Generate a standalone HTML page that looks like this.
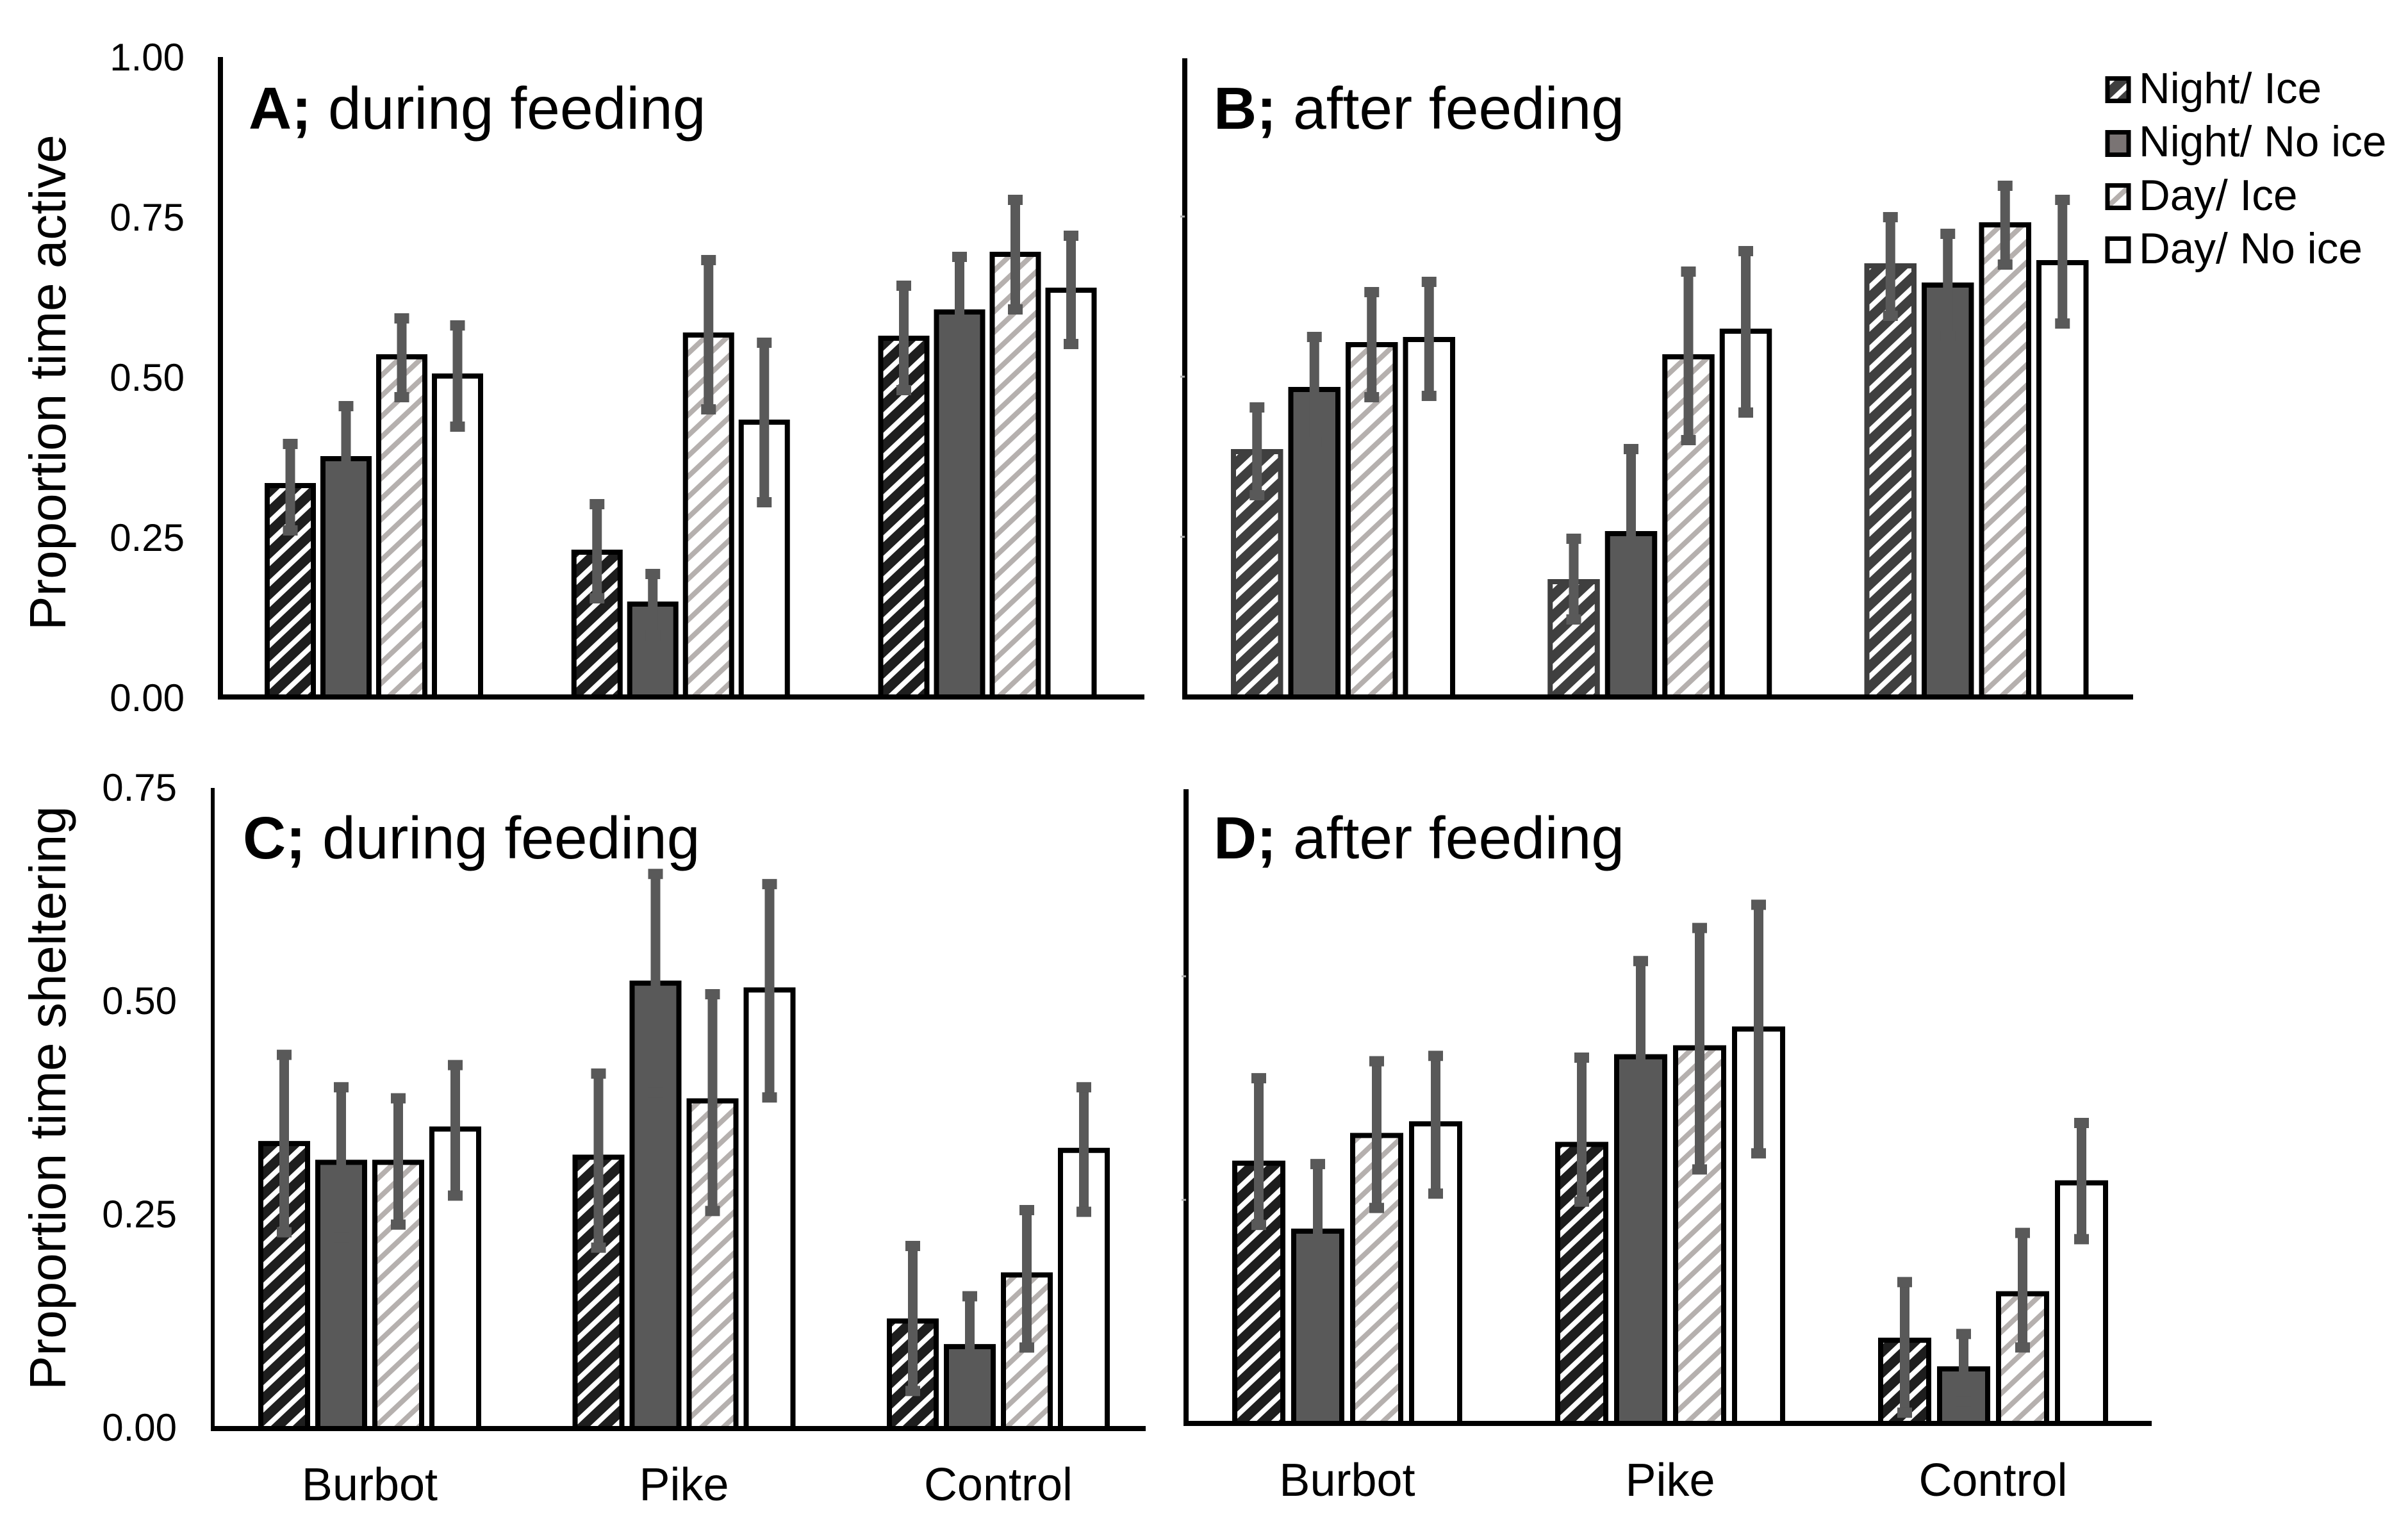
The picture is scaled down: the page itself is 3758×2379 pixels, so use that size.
<!DOCTYPE html>
<html lang="en">
<head>
<meta charset="utf-8">
<title>Proportion time active and sheltering</title>
<style>
  html, body { margin: 0; padding: 0; background: #fff; }
  svg { display: block; font-family: "Liberation Sans", sans-serif; }
</style>
</head>
<body>
<svg id="chart" xmlns="http://www.w3.org/2000/svg" width="3758" height="2379" viewBox="0 0 3758 2379">
  <defs>
    <pattern id="hatch-dark" patternUnits="userSpaceOnUse" width="34" height="32">
      <rect width="34" height="32" fill="#1e1e1e"/>
      <polygon points="0,21 22.3,0 34,0 0,32" fill="#fff"/>
      <polygon points="22.3,32 34,21 34,32" fill="#fff"/>
    </pattern>
    <pattern id="hatch-dark-b" patternUnits="userSpaceOnUse" width="34" height="32">
      <rect width="34" height="32" fill="#3f3f3f"/>
      <polygon points="0,21 22.3,0 34,0 0,32" fill="#fff"/>
      <polygon points="22.3,32 34,21 34,32" fill="#fff"/>
    </pattern>
    <pattern id="hatch-grey" patternUnits="userSpaceOnUse" width="34" height="32">
      <rect width="34" height="32" fill="#fff"/>
      <polygon points="0,21 22.3,0 34,0 0,32" fill="#b5b0ae"/>
      <polygon points="22.3,32 34,21 34,32" fill="#b5b0ae"/>
    </pattern>
  </defs>
  <rect width="3758" height="2379" fill="#fff"/>

  <text transform="translate(102 597) rotate(-90)" text-anchor="middle" font-size="80" fill="#000">Proportion time active</text>
  <text transform="translate(102 1714) rotate(-90)" text-anchor="middle" font-size="80" fill="#000">Proportion time sheltering</text>

  <text x="388" y="201" font-size="93" fill="#000"><tspan font-weight="bold">A;</tspan> during feeding</text>
  <text x="1894" y="201" font-size="93" fill="#000"><tspan font-weight="bold">B;</tspan> after feeding</text>
  <text x="379" y="1340" font-size="93" fill="#000"><tspan font-weight="bold">C;</tspan> during feeding</text>
  <text x="1894" y="1340" font-size="93" fill="#000"><tspan font-weight="bold">D;</tspan> after feeding</text>

  <g id="panels"></g>

  <g>
    <g>
      <rect x="3289" y="122.500" width="33" height="35" fill="url(#hatch-dark-b)" stroke="#000" stroke-width="7"/>
      <text x="3338" y="161" font-size="67.500" fill="#000">Night/ Ice</text>
    </g>
    <g>
      <rect x="3289" y="206.500" width="33" height="35" fill="#7a7474" stroke="#000" stroke-width="7"/>
      <text x="3338" y="244" font-size="67.500" fill="#000">Night/ No ice</text>
    </g>
    <g>
      <rect x="3289" y="289.500" width="33" height="35" fill="url(#hatch-grey)" stroke="#000" stroke-width="7"/>
      <text x="3338" y="328" font-size="67.500" fill="#000">Day/ Ice</text>
    </g>
    <g>
      <rect x="3289" y="372.500" width="33" height="35" fill="#fff" stroke="#000" stroke-width="7"/>
      <text x="3338" y="411" font-size="67.500" fill="#000">Day/ No ice</text>
    </g>
  </g>
</svg>

<script>
// ---- Data ----
const categories = ['Burbot', 'Pike', 'Control'];
const seriesNames = ['night-ice', 'night-no-ice', 'day-ice', 'day-no-ice'];
const ticksActive = ['0.00', '0.25', '0.50', '0.75', '1.00'];
const ticksSheltering = ['0.00', '0.25', '0.50', '0.75'];

// Panel A: proportion time active, during feeding
const meansA = [[0.330, 0.372, 0.531, 0.501], [0.226, 0.145, 0.565, 0.429], [0.560, 0.601, 0.691, 0.635]];
const upperA = [[0.395, 0.454, 0.591, 0.580], [0.301, 0.192, 0.682, 0.553], [0.642, 0.687, 0.776, 0.720]];
const lowerA = [[0.260, 0.290, 0.468, 0.422], [0.154, 0.096, 0.449, 0.304], [0.479, 0.515, 0.605, 0.551]];

// Panel B: proportion time active, after feeding
const meansB = [[0.383, 0.480, 0.550, 0.558], [0.180, 0.255, 0.531, 0.571], [0.673, 0.643, 0.737, 0.678]];
const upperB = [[0.452, 0.562, 0.632, 0.648], [0.247, 0.387, 0.664, 0.696], [0.749, 0.723, 0.798, 0.776]];
const lowerB = [[0.315, 0.398, 0.468, 0.470], [0.121, 0.123, 0.401, 0.444], [0.595, 0.563, 0.675, 0.583]];

// Panel C: proportion time sheltering, during feeding
const meansC = [[0.334, 0.312, 0.312, 0.351], [0.318, 0.522, 0.384, 0.514], [0.126, 0.096, 0.180, 0.326]];
const upperC = [[0.438, 0.400, 0.387, 0.426], [0.416, 0.650, 0.509, 0.638], [0.214, 0.155, 0.256, 0.400]];
const lowerC = [[0.230, 0.224, 0.239, 0.273], [0.212, 0.394, 0.255, 0.388], [0.044, 0.042, 0.095, 0.254]];

// Panel D: proportion time sheltering, after feeding
const meansD = [[0.291, 0.215, 0.322, 0.335], [0.312, 0.410, 0.420, 0.441], [0.093, 0.061, 0.145, 0.269]];
const upperD = [[0.386, 0.290, 0.405, 0.411], [0.409, 0.517, 0.554, 0.580], [0.158, 0.100, 0.213, 0.336]];
const lowerD = [[0.222, 0.140, 0.241, 0.257], [0.248, 0.303, 0.284, 0.302], [0.012, 0.025, 0.085, 0.206]];

// ---- Layout ----
const NS = 'http://www.w3.org/2000/svg';
const root = document.getElementById('panels');

function line(parent, x1, y1, x2, y2, color, width) {
  const l = document.createElementNS(NS, 'line');
  l.setAttribute('x1', x1);
  l.setAttribute('y1', y1);
  l.setAttribute('x2', x2);
  l.setAttribute('y2', y2);
  l.setAttribute('stroke', color);
  l.setAttribute('stroke-width', width);
  parent.appendChild(l);
  return l;
}

function drawPanel(cfg) {
  const g = document.createElementNS(NS, 'g');
  
  
  root.appendChild(g);

  const yScale = function (v) { return cfg.y0 - v * cfg.yPx; };
  const groupX = function (c) { return cfg.groupStart + c * cfg.groupStep; };
  const barX = function (c, s) { return groupX(c) + (s - 1.5) * cfg.pitch; };

  const fills = ['url(#' + cfg.darkHatch + ')', '#595959', 'url(#hatch-grey)', '#fff'];
  const strokes = [cfg.darkStroke, '#000', '#000', '#000'];

  // y-axis line
  const yAxis = line(g, cfg.axisX, cfg.axisTop, cfg.axisX, cfg.y0 + 4, '#000', cfg.axisW);
  
  

  // y ticks
  cfg.ticks.forEach(function (label) {
    const ty = yScale(parseFloat(label));
    if (cfg.showTickLabels) {
      const t = document.createElementNS(NS, 'text');
      
      
      t.setAttribute('x', cfg.tickRight);
      t.setAttribute('y', ty + cfg.tickDy);
      t.setAttribute('text-anchor', 'end');
      t.setAttribute('font-size', '60');
      t.setAttribute('fill', '#000');
      t.textContent = label;
      g.appendChild(t);
    } else if (parseFloat(label) > 0 && ty > cfg.axisTop) {
      const m = line(g, cfg.axisX - 7, ty, cfg.axisX, ty, '#b0b0b0', 3);
      
      
    }
  });

  // bars and error bars
  cfg.means.forEach(function (group, c) {
    group.forEach(function (value, s) {
      const cx = barX(c, s);
      const top = yScale(value);
      const r = document.createElementNS(NS, 'rect');
      
      
      r.setAttribute('x', cx - cfg.barW / 2 + 4);
      r.setAttribute('y', top);
      r.setAttribute('width', cfg.barW - 8);
      r.setAttribute('height', cfg.y0 - top);
      r.setAttribute('fill', fills[s]);
      r.setAttribute('stroke', strokes[s]);
      r.setAttribute('stroke-width', '8');
      g.appendChild(r);
    });
    group.forEach(function (value, s) {
      const cx = barX(c, s);
      const yU = yScale(cfg.upper[c][s]);
      const yL = yScale(cfg.lower[c][s]);
      const eg = document.createElementNS(NS, 'g');
      
      
      g.appendChild(eg);
      line(eg, cx, yU, cx, yL, '#595959', 15);
      line(eg, cx - 11.5, yU, cx + 11.5, yU, '#595959', 16);
      line(eg, cx - 11.5, yL, cx + 11.5, yL, '#595959', 16);
    });
  });

  // x-axis line
  const xAxis = line(g, cfg.axisX, cfg.y0, cfg.xRight, cfg.y0, '#000', 8);
  
  

  // category labels
  if (cfg.labelY) {
    categories.forEach(function (name, c) {
      const t = document.createElementNS(NS, 'text');
      
      
      t.setAttribute('x', groupX(c));
      t.setAttribute('y', cfg.labelY);
      t.setAttribute('text-anchor', 'middle');
      t.setAttribute('font-size', '72');
      t.setAttribute('fill', '#000');
      t.textContent = name;
      g.appendChild(t);
    });
  }
}

drawPanel({ id: 'a', means: meansA, upper: upperA, lower: lowerA, ticks: ticksActive, showTickLabels: true, tickDy: 22,
  y0: 1088, yPx: 1000, axisX: 344, axisW: 8, axisTop: 89, xRight: 1786, tickRight: 288,
  groupStart: 583.5, groupStep: 478.75, pitch: 87, barW: 80, darkHatch: 'hatch-dark', darkStroke: '#000', labelY: 0 });

drawPanel({ id: 'b', means: meansB, upper: upperB, lower: lowerB, ticks: ticksActive, showTickLabels: false, tickDy: 0,
  y0: 1088, yPx: 1000, axisX: 1849, axisW: 8, axisTop: 91, xRight: 3329, tickRight: 0,
  groupStart: 2096, groupStep: 494.25, pitch: 89.5, barW: 81.5, darkHatch: 'hatch-dark-b', darkStroke: '#3f3f3f', labelY: 0 });

drawPanel({ id: 'c', means: meansC, upper: upperC, lower: lowerC, ticks: ticksSheltering, showTickLabels: true, tickDy: 19,
  y0: 2230, yPx: 1332, axisX: 332, axisW: 6, axisTop: 1230, xRight: 1788, tickRight: 276,
  groupStart: 577, groupStep: 490.5, pitch: 89, barW: 81, darkHatch: 'hatch-dark', darkStroke: '#000', labelY: 2342 });

drawPanel({ id: 'd', means: meansD, upper: upperD, lower: lowerD, ticks: ticksSheltering, showTickLabels: false, tickDy: 0,
  y0: 2222, yPx: 1396, axisX: 1851, axisW: 8, axisTop: 1232, xRight: 3358, tickRight: 0,
  groupStart: 2102.5, groupStep: 504, pitch: 92, barW: 83, darkHatch: 'hatch-dark', darkStroke: '#000', labelY: 2335 });
</script>
</body>
</html>
